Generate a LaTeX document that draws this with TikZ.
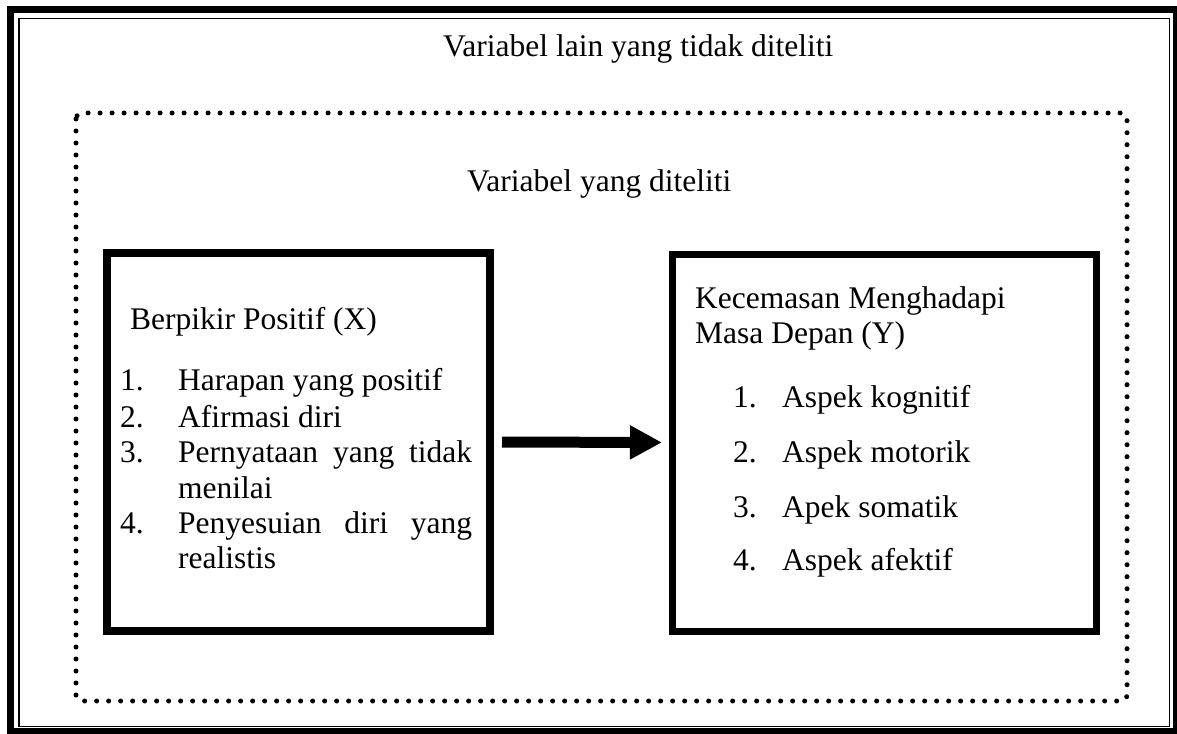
\documentclass[tikz,border=0pt]{standalone}
\usepackage{fontspec}
\setmainfont{Liberation Serif}
\usetikzlibrary{arrows.meta}
\begin{document}
\begin{tikzpicture}[x=1pt,y=-1pt,
  txt/.style={anchor=base west,inner sep=0pt,font=\fontsize{31.5}{35.5}\selectfont},
  boxL/.style={draw,line width=8pt,inner sep=0pt},
  boxR/.style={draw,line width=7pt,inner sep=0pt},
  dotline/.style={line width=5pt,line cap=round,dash pattern=on 0pt off 12pt,rounded corners=6pt},
  bigarrow/.style={line width=11pt,-{Triangle[length=32pt,width=32pt]}}]
\useasboundingbox (0,0) rectangle (1177,733);
% outer frame
\draw[line width=7pt] (10.9,9.7) rectangle (1176.5,731.3);
\draw[line width=1.3pt] (19,18.8) rectangle (1169.2,726.8);
% dotted frame
\draw[dotline] (76,113) rectangle (1127,701);
% titles
\node[txt] (t1) at (443,57) {Variabel lain yang tidak diteliti};
\node[txt] (t2) at (467,191) {Variabel yang diteliti};
% boxes
\node[boxL,minimum width=383.5pt,minimum height=378pt] (lbox) at (298.25,442) {};
\node[boxR,minimum width=423.5pt,minimum height=377pt] (rbox) at (884.25,442.5) {};
% left box text
\node[txt] (xh) at (130,329) {Berpikir Positif (X)};
\node[txt] (xn1) at (120,390) {1.};
\node[txt] (xi1) at (178,390) {Harapan yang positif};
\node[txt] (xn2) at (120,427) {2.};
\node[txt] (xi2) at (178,427) {Afirmasi diri};
\node[txt] (xn3) at (120,462) {3.};
\node[txt] (xi3) at (178,462) {\makebox[294pt][s]{Pernyataan yang tidak}};
\node[txt] (xi3b) at (178,498) {menilai};
\node[txt] (xn4) at (120,533) {4.};
\node[txt] (xi4) at (178,533) {\makebox[294pt][s]{Penyesuian diri yang}};
\node[txt] (xi4b) at (178,568) {realistis};
% right box text
\node[txt] (yh1) at (695,308) {Kecemasan Menghadapi};
\node[txt] (yh2) at (695,343) {Masa Depan (Y)};
\node[txt] (yn1) at (733,407) {1.};
\node[txt] (yi1) at (782,407) {Aspek kognitif};
\node[txt] (yn2) at (733,462) {2.};
\node[txt] (yi2) at (782,462) {Aspek motorik};
\node[txt] (yn3) at (733,517) {3.};
\node[txt] (yi3) at (782,517) {Apek somatik};
\node[txt] (yn4) at (733,570) {4.};
\node[txt] (yi4) at (782,570) {Aspek afektif};
% arrow
\draw[bigarrow,shorten <=8pt,shorten >=7pt] (lbox.east) -- (rbox.west);
\end{tikzpicture}
\end{document}
